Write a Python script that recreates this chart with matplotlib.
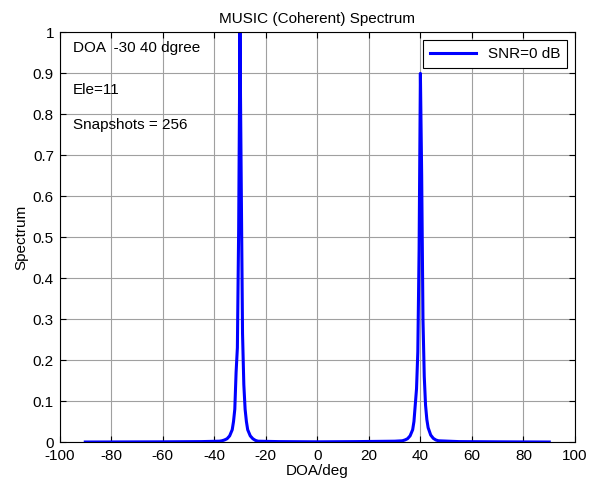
import numpy as np
import matplotlib
matplotlib.use("Agg")
import matplotlib.pyplot as plt

plt.rcParams['font.family'] = ['Liberation Sans', 'DejaVu Sans']
plt.rcParams['axes.unicode_minus'] = False

# spectrum (flat ~0 outside the two peaks)
doa = [-90, -60, -45, -38,
       -37, -36, -35, -34, -33, -32.5, -32, -31.5, -31, -30.5, -30,
       -29.5, -29, -28.5, -28, -27.5, -27, -26, -25, -24, -23,
       -15, 0, 15, 30,
       33, 34, 35, 36, 37, 37.5, 38, 38.5, 39, 39.5, 40,
       40.5, 41, 41.5, 42, 42.5, 43, 44, 45, 46, 47,
       55, 70, 90]
spec = [0.0, 0.0005, 0.001, 0.002,
        0.003, 0.005, 0.008, 0.015, 0.03, 0.05, 0.08, 0.17, 0.23, 0.52, 1.0,
        0.63, 0.265, 0.14, 0.08, 0.05, 0.03, 0.015, 0.008, 0.004, 0.002,
        0.001, 0.0005, 0.001, 0.002,
        0.003, 0.005, 0.008, 0.015, 0.03, 0.05, 0.09, 0.13, 0.22, 0.47, 0.9,
        0.65, 0.30, 0.16, 0.09, 0.055, 0.035, 0.017, 0.009, 0.005, 0.003,
        0.001, 0.0005, 0.0]

fig = plt.figure(figsize=(5.94, 4.86), dpi=100)
ax = fig.add_axes([0.1002, 0.0905, 0.8679, 0.8428])
ax.plot(doa, spec, color='blue', lw=2.2, label='SNR=0 dB')

ax.set_xlim(-100, 100)
ax.set_ylim(0, 1)
ax.set_xticks(np.arange(-100, 101, 20))
ax.set_yticks(np.arange(0, 1.01, 0.1))
ax.set_yticklabels(['0', '0.1', '0.2', '0.3', '0.4', '0.5', '0.6', '0.7', '0.8', '0.9', '1'])
ax.grid(True, color='#a0a0a0', lw=0.8)
ax.tick_params(direction='in', labelsize=11, length=4, top=True, right=True)
ax.tick_params(axis='x', pad=5)
ax.tick_params(axis='y', pad=4)
for s in ax.spines.values():
    s.set_linewidth(0.8)

ax.set_title('MUSIC (Coherent) Spectrum', fontsize=11, pad=7)
ax.set_xlabel('DOA/deg', fontsize=11, labelpad=1)
ax.set_ylabel('Spectrum', fontsize=11, labelpad=3)

ax.text(-94.8, 0.961, 'DOA  -30 40 dgree', fontsize=11, va='center')
ax.text(-94.8, 0.859, 'Ele=11', fontsize=11, va='center')
ax.text(-94.8, 0.774, 'Snapshots = 256', fontsize=11, va='center')

leg = ax.legend(loc='upper right', fontsize=11, fancybox=False, framealpha=1,
                edgecolor='black', handlelength=3.0, borderaxespad=0.5,
                borderpad=0.45)
leg.get_frame().set_linewidth(0.8)

fig.savefig('out.png', dpi=100)
